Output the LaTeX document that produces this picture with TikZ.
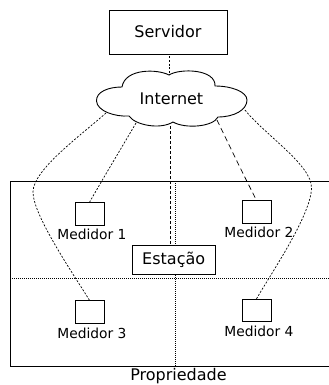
\documentclass[tikz,border=0pt]{standalone}
\usepackage{fontspec}
\setmainfont{DejaVu Sans}
\begin{document}
\begin{tikzpicture}[x=1bp,y=-1bp,
  boxed/.style={draw=black,line width=0.9bp,fill=white,inner sep=0pt,text=black},
  meter/.style={boxed,minimum width=29bp,minimum height=22.5bp},
  lbl/.style={inner sep=0pt,font=\fontsize{13.8bp}{15bp}\selectfont},
  big/.style={font=\fontsize{16bp}{18bp}\selectfont},
  link/.style={line width=0.7bp,dash pattern=on 2bp off 1.6bp},
  midlink/.style={line width=0.8bp,dash pattern=on 3bp off 2bp},
  longlink/.style={line width=0.7bp,dash pattern=on 5.5bp off 3.5bp},
  part/.style={line width=0.9bp,dash pattern=on 1.2bp off 0.8bp}]
\useasboundingbox (0,0) rectangle (329,385);
% property
\draw[line width=0.9bp] (329,181) -- (10.5,181) -- (10.5,366) -- (329,366);
\coordinate (vt) at (175,181);
\coordinate (vb) at (175,366);
\coordinate (hl) at (10,278);
\coordinate (hr) at (329,278);
\draw[part] (vt) -- (vb);
\draw[part] (hl) -- (hr);
% nodes
\node[boxed,big,minimum width=118bp,minimum height=44bp] (srv) at (168,32) {Servidor};
\node[boxed,big,minimum width=82.5bp,minimum height=29bp] (est) at (173.7,259.5) {Estação};
\node[meter] (m1) at (89.5,214) {};
\node[meter] (m2) at (256.5,212) {};
\node[meter] (m3) at (89.5,312) {};
\node[meter] (m4) at (256.5,310.5) {};
\node[lbl] (l1) at (92,234) {Medidor 1};
\node[lbl] (l2) at (259,232) {Medidor 2};
\node[lbl] (l3) at (92,333) {Medidor 3};
\node[lbl] (l4) at (259,331) {Medidor 4};
\node[lbl,big] (prop) at (178.5,376.5) {Propriedade};
% cloud
\draw[line width=0.9bp,fill=white] (169,75)
  .. controls (158,69) and (125,68) .. (122,87)
  .. controls (108,87) and (96,92) .. (96.5,101)
  .. controls (97,111) and (115,117) .. (129,116)
  .. controls (135,125) and (160,130) .. (173,122)
  .. controls (185,129) and (213,127) .. (218,117)
  .. controls (234,117) and (247,110) .. (247,100)
  .. controls (247,92) and (232,86) .. (215,86)
  .. controls (216,69) and (180,68) .. (169,75) -- cycle;
\node[inner sep=0pt,big] (net) at (171.5,99) {Internet};
\coordinate (ctop) at (169,75);
\coordinate (cl) at (106,113);
\coordinate (c1) at (136,123);
\coordinate (cb) at (170,126);
\coordinate (c2) at (217,120);
\coordinate (cr) at (245,110);
% connectors
\draw[link] (srv.south -| ctop) ++(0,2) -- (ctop);
\draw[midlink] (cb) -- (est.north -| cb);
\draw[link] (cl) .. controls (80,136) and (33,170) .. (33,192)
  .. controls (33,215) and (72,272) .. (m3.north);
\draw[link] (c1) .. controls (122,147) and (105,175) .. (m1.north);
\draw[longlink] (c2) .. controls (230,147) and (245,178) .. (m2.north);
\draw[link] (cr) .. controls (265,135) and (312,165) .. (311.5,188)
  .. controls (311,215) and (272,272) .. (m4.north);
\end{tikzpicture}
\end{document}
